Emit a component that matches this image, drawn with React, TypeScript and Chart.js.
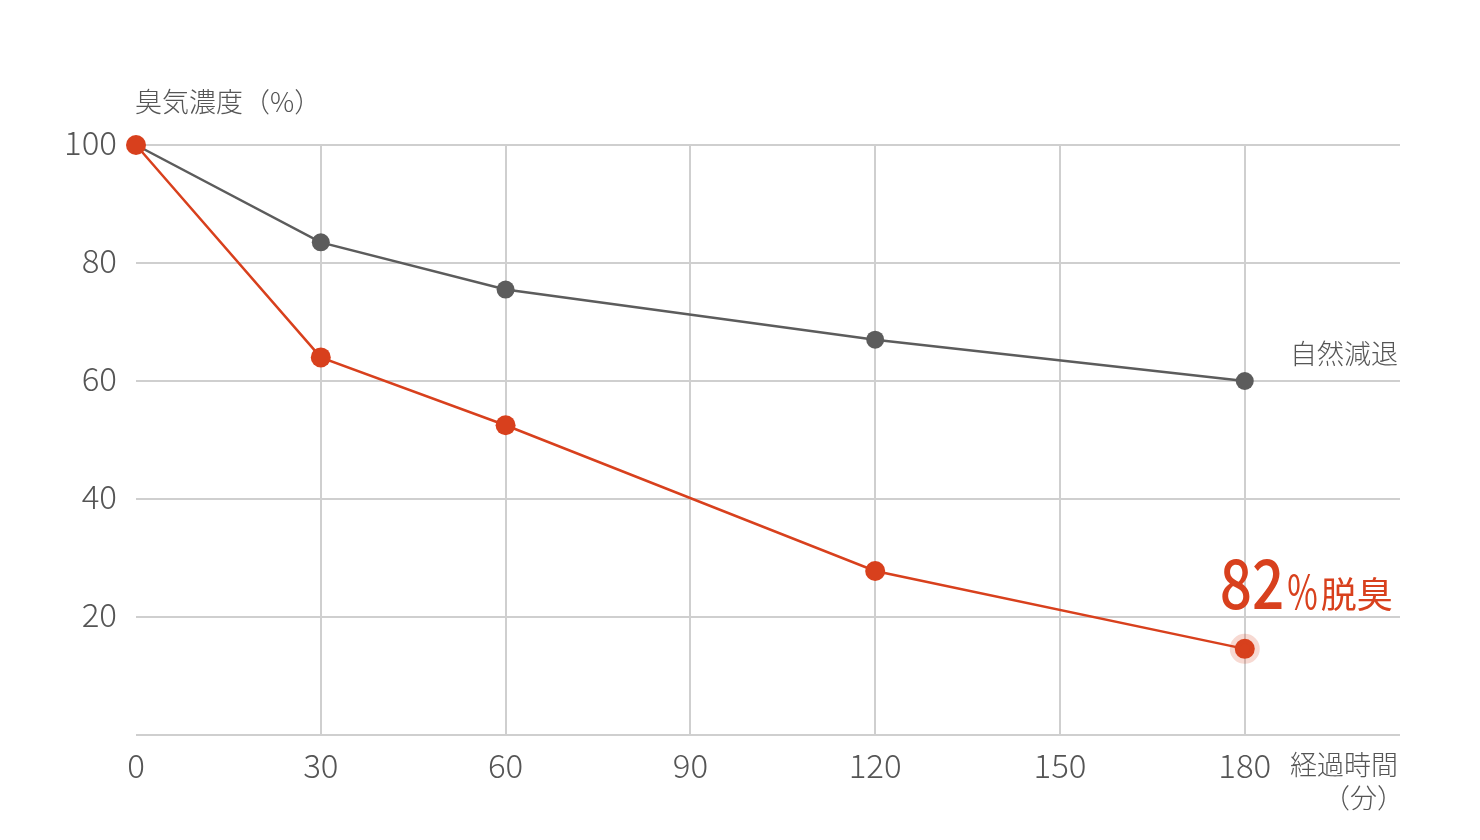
import React, { useEffect, useRef } from "react";
import { Chart, registerables } from "chart.js";

Chart.register(...registerables);

const minutes = [0, 30, 60, 120, 180];
const naturalDecay = [100, 83.5, 75.5, 67, 60];
const deodorized = [100, 64, 52.5, 27.8, 14.6];
const xTicks = [0, 30, 60, 90, 120, 150, 180];
const yTicks = [0, 20, 40, 60, 80, 100];

const yTitle = "臭気濃度（%）";
const naturalLabel = "自然減退";
const resultBig = "82";
const resultPct = "%";
const resultWord = "脱臭";
const xTitle1 = "経過時間";
const xTitle2 = "（分）";

const RED = "#d8401d";
const GRAY = "#5c5c5c";
const GRID = "#cfcfcf";
const TEXT = "#555555";
const JP_FONT = "'Noto Sans CJK JP', sans-serif";

export default function App() {
  const ref = useRef<HTMLCanvasElement | null>(null);
  useEffect(() => {
    if (!ref.current) return;
    const labelsPlugin = {
      id: "labels",
      afterDatasetsDraw(chart: any) {
        const ctx = chart.ctx;
        const xs = chart.scales.x;
        const ys = chart.scales.y;
        const area = chart.chartArea;
        ctx.save();
        ctx.fillStyle = TEXT;
        ctx.font = `300 27px ${JP_FONT}`;
        ctx.textBaseline = "middle";
        ctx.textAlign = "left";
        ctx.fillText(yTitle, area.left - 1, ys.getPixelForValue(100) - 43);
        ctx.textAlign = "right";
        ctx.fillText(naturalLabel, area.right - 2, ys.getPixelForValue(60) - 27);
        ctx.fillText(xTitle1, area.right - 2, area.bottom + 30);
        ctx.fillText(xTitle2, area.right + 4, area.bottom + 63);
        // result label
        ctx.fillStyle = RED;
        ctx.textBaseline = "alphabetic";
        ctx.textAlign = "left";
        const bx = xs.getPixelForValue(180) - 25;
        const by = ys.getPixelForValue(20) - 8;
        ctx.save();
        ctx.translate(bx, by);
        ctx.scale(0.82, 1);
        ctx.font = `500 69px ${JP_FONT}`;
        ctx.fillText(resultBig, 0, 0);
        const w = ctx.measureText(resultBig).width * 0.82;
        ctx.restore();
        ctx.save();
        ctx.translate(bx + w + 3, by);
        ctx.scale(0.72, 1);
        ctx.font = `400 46px ${JP_FONT}`;
        ctx.fillText(resultPct, 0, 0);
        const pw = ctx.measureText(resultPct).width * 0.72;
        ctx.restore();
        ctx.font = `400 36px ${JP_FONT}`;
        ctx.fillText(resultWord, bx + w + pw + 6, by - 1);
        ctx.restore();
      },
    };
    const chart = new Chart(ref.current, {
      type: "line",
      data: {
        datasets: [
          {
            label: "脱臭",
            order: 0,
            clip: false,
            data: minutes.map((m, i) => ({ x: m, y: deodorized[i] })),
            borderColor: RED,
            backgroundColor: RED,
            borderWidth: 2.5,
            pointRadius: 10,
            pointBorderWidth: minutes.map((m) => (m === 180 ? 10 : 0)) as any,
            pointBorderColor: minutes.map((m) => (m === 180 ? "rgba(216,64,29,0.2)" : RED)) as any,
            pointBackgroundColor: RED,
          },
          {
            label: naturalLabel,
            order: 1,
            clip: false,
            data: minutes.map((m, i) => ({ x: m, y: naturalDecay[i] })),
            borderColor: GRAY,
            backgroundColor: GRAY,
            borderWidth: 2.5,
            pointRadius: 9,
            pointBorderWidth: 0,
            pointBackgroundColor: GRAY,
          },
        ],
      },
      options: {
        animation: false,
        responsive: false,
        maintainAspectRatio: false,
        layout: { padding: { left: 0, top: 145, right: 80, bottom: 30 } },
        plugins: { legend: { display: false }, tooltip: { enabled: false } },
        scales: {
          x: {
            type: "linear",
            min: 0,
            max: 205.2,
            afterBuildTicks: (scale: any) => {
              scale.ticks = xTicks.map((v) => ({ value: v }));
            },
            grid: {
              color: (c: any) => (c.tick && c.tick.value === 0 ? "rgba(0,0,0,0)" : GRID),
              lineWidth: 2,
              drawTicks: false,
            },
            border: { display: false },
            ticks: {
              color: TEXT,
              font: { family: JP_FONT, size: 33, weight: "300" },
              padding: 11,
              maxRotation: 0,
              callback: (v: any) => String(v),
            },
            afterFit: (scale: any) => {
              scale.height = 75;
            },
          },
          y: {
            min: 0,
            max: 100,
            afterBuildTicks: (scale: any) => {
              scale.ticks = yTicks.map((v) => ({ value: v }));
            },
            grid: { color: GRID, lineWidth: 2, drawTicks: false },
            border: { display: false },
            ticks: {
              color: TEXT,
              font: { family: JP_FONT, size: 33, weight: "300" },
              padding: 19,
              labelOffset: -3,
              callback: (v: any) => (v === 0 ? "" : String(v)),
            },
            afterFit: (scale: any) => {
              scale.width = 136;
            },
          },
        },
      },
      plugins: [labelsPlugin],
    } as any);
    return () => chart.destroy();
  }, []);
  return (
    <div style={{ position: "fixed", left: 0, top: 0, width: 1480, height: 840, background: "#fff" }}>
      <canvas ref={ref} width={1480} height={840} style={{ width: 1480, height: 840 }} />
    </div>
  );
}
